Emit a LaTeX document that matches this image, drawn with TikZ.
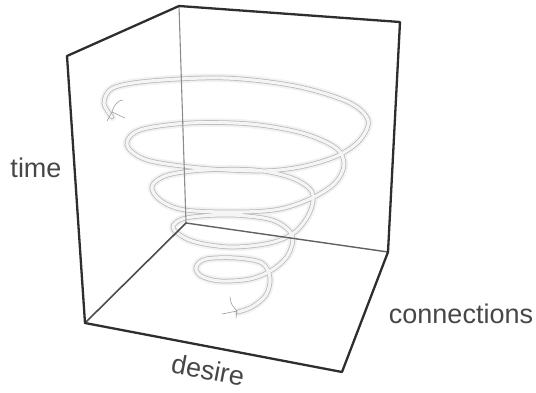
\documentclass[tikz,border=0pt]{standalone}
\usepackage{fontspec}
\setmainfont{Liberation Sans}
\begin{document}
\begin{tikzpicture}[x=1pt,y=-1pt,
  halo/.style={line width=8.5pt, draw=black!5, line cap=round, line join=round},
  tube/.style={draw=black!28, line width=0.75pt, double=black!4, double distance=3.1pt, line cap=round, line join=round},
  scrib/.style={draw=black!38, line width=0.6pt, line cap=round},
  heavy/.style={draw=black!82, line width=2.3pt, line cap=round, line join=round},
  mid/.style={draw=black!70, line width=1.6pt, line cap=round},
  thin/.style={draw=black!45, line width=1.1pt, line cap=round},
  lbl/.style={text=black!72, font=\fontsize{27}{30}\selectfont, inner sep=0pt}]
\useasboundingbox (0,0) rectangle (536,393);

% corners of the box
\coordinate (FLT) at (67,56);
\coordinate (BT)  at (179,6);
\coordinate (RT)  at (400,22);
\coordinate (FLB) at (85,323);
\coordinate (BB)  at (186,223);
\coordinate (RB)  at (388,252);
\coordinate (FRB) at (342,372);

% spiral
\def\spiralpts{(112,117) (104,103) (113,88) (150,81) (225,78) (295,86) (348,102) (368,120) (360,140) (337,156) (300,167) (260,171) (200,168) (147,160) (127,145) (140,130) (190,123) (250,124) (302,133) (336,148) (344,165) (335,183) (312,198) (280,209) (240,212) (185,210) (160,200) (152,186) (168,175) (205,170) (255,170) (292,178) (312,192) (310,212) (295,232) (270,243) (230,247) (192,241) (173,228) (186,218) (230,215) (272,220) (292,235) (288,255) (272,270) (250,279) (220,281) (201,276) (196,267) (206,259) (236,258) (262,263) (270,278) (266,295) (252,307) (238,312)}
\draw[halo] plot[smooth, tension=0.55] coordinates {\spiralpts};
\draw[tube] plot[smooth, tension=0.55] coordinates {\spiralpts};

% start scribble
\coordinate (s1) at (107,121);
\coordinate (s2) at (112,112);
\coordinate (s3) at (125,118);
\coordinate (s4) at (123,100);
\draw[scrib] (s1) -- (s2) -- (s3);
\draw[scrib] (s2) .. controls (114,104) and (119,100) .. (s4);
% end scribble
\coordinate (e1) at (230,297);
\coordinate (e2) at (237,311);
\coordinate (e3) at (222,314);
\coordinate (e4) at (236,318);
\draw[scrib] (e1) .. controls (231,304) .. (e2);
\draw[scrib] (e3) -- (e2) -- (e4);

% box: back lines
\draw[thin] (BT) -- (BB);
\draw[mid, draw=black!62, line width=1.4pt] (BB) -- (RB);
\draw[mid] (FLB) -- (BB);
% box: heavy lines
\draw[heavy] (FLB) -- (FLT) -- (BT) -- (RT) -- (RB) -- (FRB) -- cycle;

% labels
\node[lbl, anchor=base] (time) at (36,178) {time};
\node[lbl, anchor=base] (conn) at (461,323) {connections};
\node[lbl, rotate=-10.8] (desire) at (208,370) {desire};
\end{tikzpicture}
\end{document}
